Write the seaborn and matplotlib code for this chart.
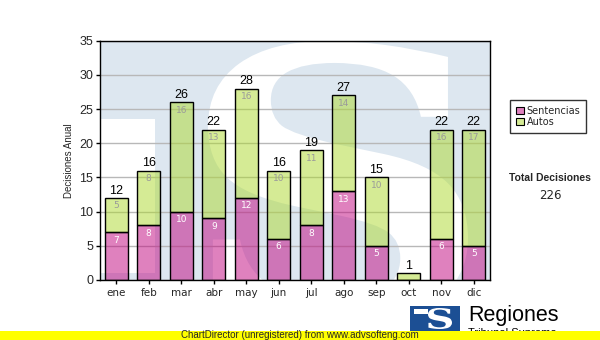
import matplotlib
matplotlib.use("Agg")
import matplotlib.pyplot as plt
import matplotlib.patches as mpatches
from matplotlib.textpath import TextPath
from matplotlib.font_manager import FontProperties
from matplotlib.transforms import Affine2D
import seaborn as sns
import pandas as pd

# Monthly decisions
meses = ["ene", "feb", "mar", "abr", "may", "jun", "jul", "ago", "sep", "oct", "nov", "dic"]
sentencias = [7, 8, 10, 9, 12, 6, 8, 13, 5, 0, 6, 5]
autos = [5, 8, 16, 13, 16, 10, 11, 14, 10, 1, 16, 17]
series = ["Sentencias", "Autos"]
y_ticks = [0, 5, 10, 15, 20, 25, 30, 35]

totales = [s + a for s, a in zip(sentencias, autos)]
total_general = sum(totales)

PINK = (0.757, 0.016, 0.498)
GREEN = (0.678, 0.851, 0.176)
ALPHA = 0.5
BG = "#dde7f0"

df = pd.DataFrame({
    "mes": meses * 2,
    "valor": sentencias + autos,
    "tipo": ["Sentencias"] * len(meses) + ["Autos"] * len(meses),
})
df["mes"] = pd.Categorical(df["mes"], categories=meses, ordered=True)

sns.set_style("white")
plt.rcParams["font.family"] = ["DejaVu Sans"]

W, H = 600, 340
fig = plt.figure(figsize=(W / 100, H / 100), dpi=100)
ax = fig.add_axes([100 / W, 1 - 280 / H, 390 / W, 239.3 / H])
ax.set_facecolor(BG)

# stacked bars: first hue level in hue_order ends up on top
sns.histplot(data=df, x="mes", weights="valor", hue="tipo", hue_order=series[::-1],
             multiple="stack", discrete=True, shrink=0.72,
             palette={"Sentencias": PINK, "Autos": GREEN},
             edgecolor="black", linewidth=1.0, legend=False, ax=ax, zorder=3)

for p in ax.patches:
    fc = p.get_facecolor()
    p.set_alpha(None)
    p.set_facecolor((fc[0], fc[1], fc[2], ALPHA))
    p.set_edgecolor("black")


def box_path(text, fam, weight, style, x0, y0, x1, y1):
    """Glyph outline stretched to a box given in image pixels (top-left origin)."""
    tp = TextPath((0, 0), text, size=100,
                  prop=FontProperties(family=fam, weight=weight, style=style))
    ext = tp.get_extents()
    sx = (x1 - x0) / ext.width / W
    sy = (y1 - y0) / ext.height / H
    tr = (Affine2D().translate(-ext.x0, -ext.y0).scale(sx, sy)
          .translate(x0 / W, 1 - y1 / H))
    return tr.transform_path(tp)


# background emblem: white "S" and the stem of the "T"
s_path = box_path("S", "DejaVu Serif", "bold", "normal", 208, 41, 468, 322)
ax.add_patch(mpatches.PathPatch(s_path, transform=fig.transFigure,
                                facecolor="white", edgecolor="none", zorder=0))
ax.add_patch(mpatches.Rectangle((101 / W, 1 - 273 / H), 54 / W, 154 / H,
                                transform=fig.transFigure, facecolor="white",
                                edgecolor="none", zorder=0))

ax.set_xlim(-0.5, len(meses) - 0.5)
ax.set_ylim(0, 35)
ax.set_yticks(y_ticks)
ax.set_xticks(range(len(meses)))
ax.set_xticklabels(meses)
ax.yaxis.grid(True, color="#b8b8b8", linewidth=1.0)
ax.set_axisbelow(True)
for g in ax.get_ygridlines():
    g.set_zorder(1)
for s in ax.spines.values():
    s.set_visible(True)
    s.set_color("black")
    s.set_linewidth(1.0)
    s.set_zorder(6)
ax.tick_params(axis="both", direction="out", length=3, width=1, color="black",
               labelsize=8, pad=2, left=True, bottom=True)
ax.tick_params(axis="x", labelsize=7.5, pad=3)
for lab in ax.get_yticklabels():
    lab.set_family("Liberation Sans")
    lab.set_fontsize(9)
ax.set_xlabel("")
ax.set_ylabel("Decisiones Anual", fontsize=7, family="Liberation Sans", labelpad=4)

# value labels
for i, (s, a, t) in enumerate(zip(sentencias, autos, totales)):
    ax.annotate(str(t), (i, t), xytext=(0, 1), textcoords="offset points",
                ha="center", va="bottom", fontsize=9, family="Liberation Sans",
                color="black", zorder=7)
    if a >= 2:
        ax.annotate(str(a), (i, t), xytext=(0, -2.5), textcoords="offset points",
                    ha="center", va="top", fontsize=6.5, color="#9a9a9a", zorder=7)
    if s >= 2:
        ax.annotate(str(s), (i, s), xytext=(0, -2.5), textcoords="offset points",
                    ha="center", va="top", fontsize=6.5, color="white", zorder=7)

# legend
handles = [mpatches.Patch(facecolor=(*PINK, ALPHA), edgecolor="black", linewidth=0.8, label=series[0]),
           mpatches.Patch(facecolor=(*GREEN, ALPHA), edgecolor="black", linewidth=0.8, label=series[1])]
leg = fig.legend(handles=handles, loc="upper left", bbox_to_anchor=(510 / W, 1 - 100 / H),
                 fontsize=7, frameon=True, fancybox=False, handlelength=0.8, handleheight=0.8,
                 handletextpad=0.3, borderpad=0.6, labelspacing=0.1, borderaxespad=0)
leg.get_frame().set_edgecolor("black")
leg.get_frame().set_linewidth(1.0)

fig.text(550 / W, 1 - 178 / H, "Total Decisiones", ha="center", va="center",
         fontsize=7.5, fontweight="bold", family="Liberation Sans")
fig.text(550 / W, 1 - 196 / H, str(total_general), ha="center", va="center", fontsize=8.5)

# footer logo
fig.patches.append(mpatches.Rectangle((410 / W, 1 - 331 / H), 50 / W, 25 / H,
                                      transform=fig.transFigure, facecolor="#1c4f94",
                                      edgecolor="none", zorder=1))
fig.patches.append(mpatches.PathPatch(box_path("S", "DejaVu Serif", "bold", "normal", 428, 308, 452, 329),
                                      transform=fig.transFigure, facecolor="white",
                                      edgecolor="none", zorder=2))
fig.patches.append(mpatches.Rectangle((414 / W, 1 - 314 / H), 14 / W, 5 / H,
                                      transform=fig.transFigure, facecolor="white",
                                      edgecolor="none", zorder=2))
fig.text(468 / W, 1 - 316 / H, "Regiones", ha="left", va="center", fontsize=15.5,
         family="Liberation Sans", color="black", zorder=2)
fig.text(468 / W, 1 - 333 / H, "Tribunal Supremo", ha="left", va="center", fontsize=8,
         family="Liberation Sans", color="black", zorder=2)

# yellow footer band
fig.patches.append(mpatches.Rectangle((0, 0), 1, 9.5 / H, transform=fig.transFigure,
                                      facecolor="#ffff00", edgecolor="none", zorder=3))
fig.text(300 / W, 4.5 / H, "ChartDirector (unregistered) from www.advsofteng.com",
         ha="center", va="center", fontsize=7, family="Liberation Sans", zorder=4)

fig.savefig("out.png", dpi=100)
